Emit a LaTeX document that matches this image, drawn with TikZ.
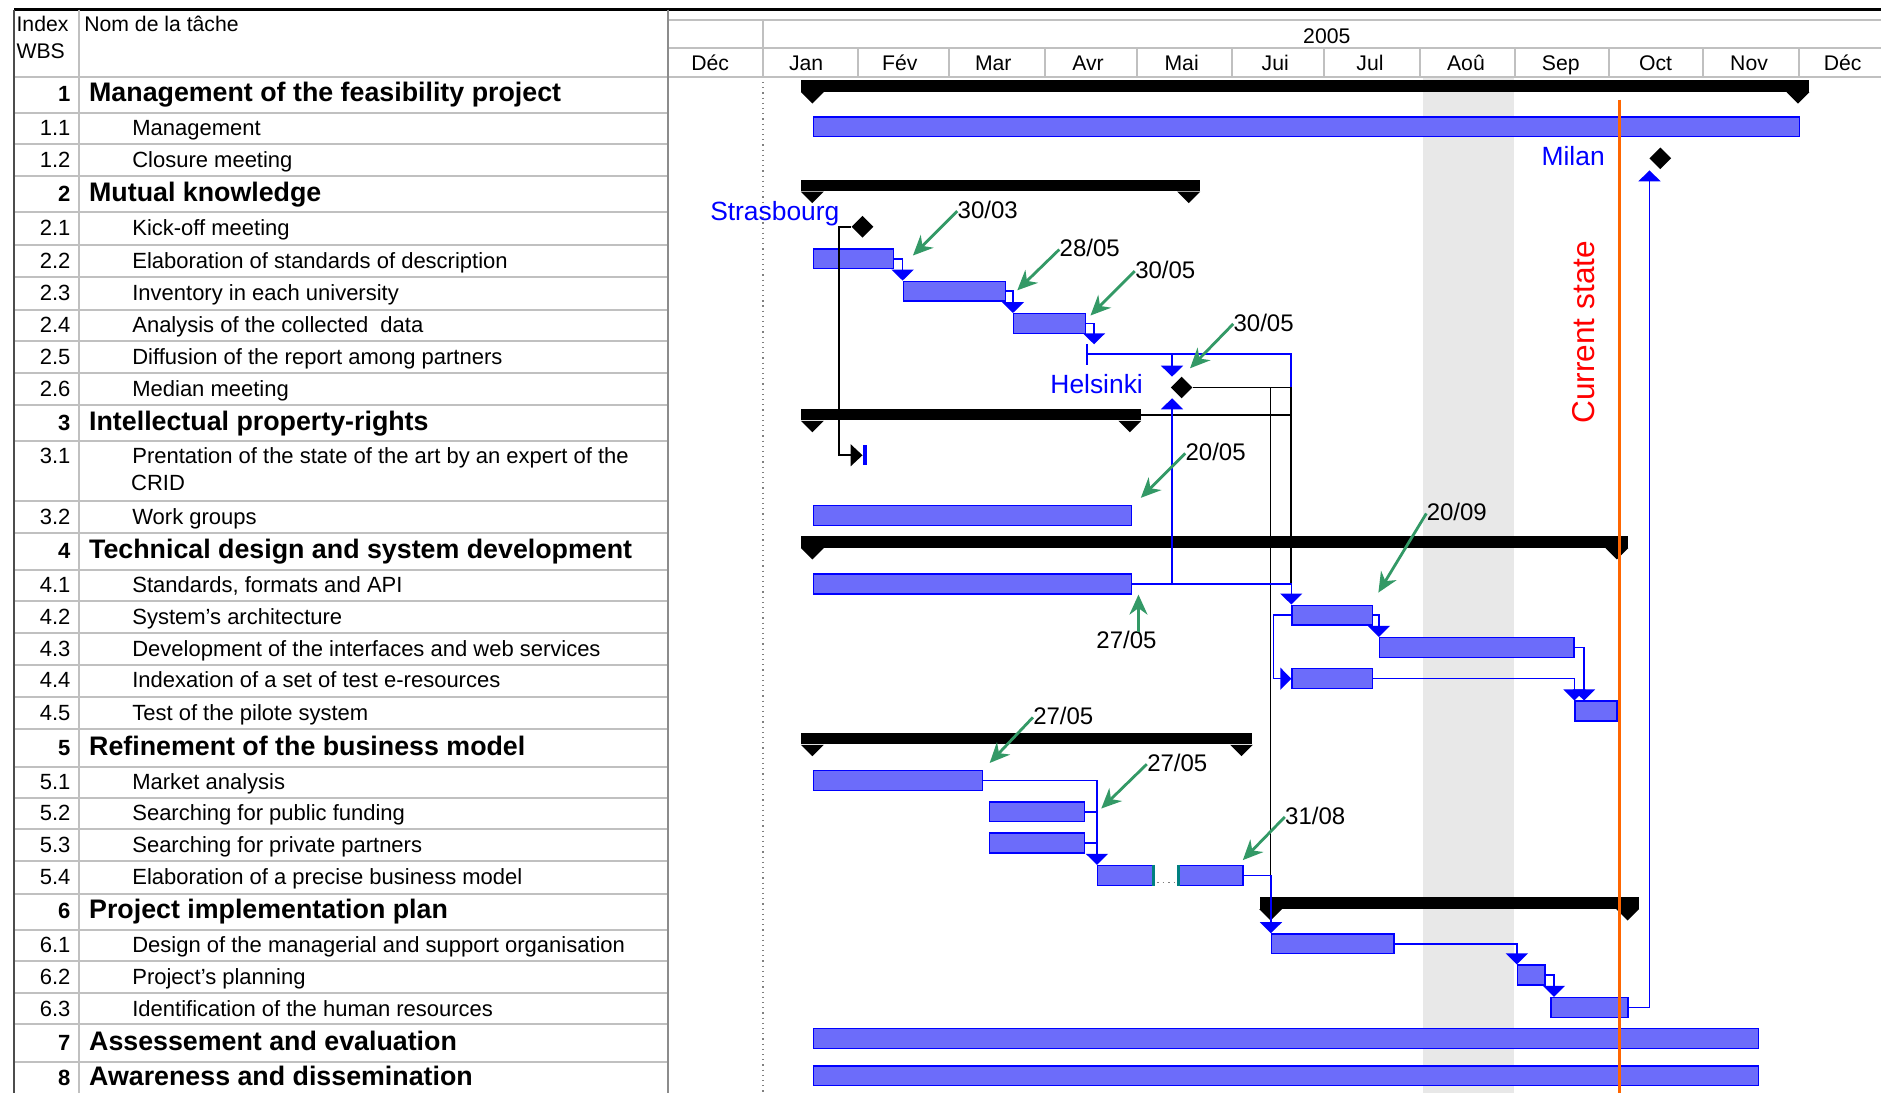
\documentclass[tikz,border=0pt]{standalone}
\usepackage{fontspec}
\setmainfont{Liberation Sans}
\usetikzlibrary{arrows.meta, shapes.geometric, fit, calc}

\definecolor{barblue}{RGB}{108,108,250}
\definecolor{notegreen}{RGB}{51,153,102}
\definecolor{nowline}{RGB}{255,102,0}
\definecolor{gridgray}{RGB}{192,192,192}
\definecolor{splitteal}{RGB}{0,128,128}

\tikzset{
  taskbar/.style={draw=blue, fill=barblue, line width=0.7pt, inner sep=0pt},
  sumbar/.style={fill=black, inner sep=0pt},
  milestone/.style={diamond, fill=black, inner sep=0pt, minimum width=11pt, minimum height=11pt},
  startmark/.style={fill=blue, inner sep=0pt, minimum width=2pt, minimum height=10pt},
  link/.style={draw=blue, line width=0.8pt, -{Triangle[width=11pt,length=5.5pt]}},
  plainlink/.style={draw=blue, line width=0.8pt},
  blacklink/.style={draw=black, line width=0.8pt},
  note/.style={draw=notegreen, line width=1.4pt, -{Stealth[length=10pt,width=9pt]}},
  gridline/.style={draw=gridgray, line width=1pt},
  txt/.style={inner sep=0pt, text height=0.72em, text depth=0pt},
  headtext/.style={txt, font=\fontsize{10.6}{11}\selectfont},
  wbs/.style={txt, anchor=east, font=\fontsize{11}{11}\selectfont},
  taskname/.style={txt, anchor=west, font=\fontsize{11}{11}\selectfont},
  groupname/.style={txt, anchor=west, font=\fontsize{13.4}{13}\selectfont\bfseries},
  datelbl/.style={txt, anchor=west, font=\fontsize{12}{12}\selectfont},
  msname/.style={txt, anchor=east, text=blue, font=\fontsize{13.2}{13}\selectfont},
}

\newcommand{\taskbar}[4]{\node[taskbar, fit={(#2,#4+3.5) (#3,#4+20)}] (#1) {};}
\newcommand{\sumbar}[4]{%
  \node[sumbar, fit={(#2,#4+3) (#3,#4+12.5)}] (#1) {};
  \fill (#1.south west) -- ++(19,0) -- ++(-9.5,9.5) -- cycle;
  \fill (#1.south east) -- ++(-19,0) -- ++(9.5,9.5) -- cycle;}

\begin{document}
\begin{tikzpicture}[x=0.6pt, y=-0.6pt]
\useasboundingbox (0,0) rectangle (1568,911);
\fill[white] (0,0) rectangle (1568,911);

% calendar background
\fill[black!9] (1186,64) rectangle (1262,911);
\draw[gray, dotted, line width=0.6pt] (636,64) -- (636,911);

% table
\draw[line width=1.2pt] (12,8) -- (1568,8);
\foreach \y in {64,94,120,147,177,204,231,258,284,311,338,368,418,444,475,501,528,554,581,608,639,665,691,718,745,775,801,828,854,885}
  \draw[gridline] (12,\y) -- (557,\y);
\draw[gridline] (557,64) -- (1568,64);
\draw[gridline] (557,17) -- (1568,17);
\draw[gridline] (557,40) -- (1568,40);
\draw[gridline] (636,17) -- (636,64);
\foreach \x in {715,791,871,948,1027,1104,1184,1263,1341,1420,1500}
  \draw[gridline] (\x,40) -- (\x,64);
\draw[black!70, line width=1pt] (12,8) -- (12,911);
\draw[gridline] (66,8) -- (66,911);
\draw[black!45, line width=1pt] (557,8) -- (557,911);

\node[headtext, anchor=west] (hidx) at (13.5,20) {Index};
\node[headtext, anchor=west] (hwbs) at (13.5,43) {WBS};
\node[headtext, anchor=west] (hname) at (70,20) {Nom de la tâche};
\node[headtext] (year) at (1106,30) {2005};
\foreach \x/\m [count=\n] in {592/Déc,672/Jan,750/Fév,828/Mar,907/Avr,985/Mai,1063/Jui,1142/Jul,1222/Aoû,1301/Sep,1380/Oct,1458/Nov,1536/Déc}
  \node[headtext] (mon\n) at (\x,53) {\m};

\foreach \y/\i/\t [count=\n] in {79/1/Management of the feasibility project,162/2/Mutual knowledge,353/3/Intellectual property-rights,459.5/4/Technical design and system development,623.5/5/Refinement of the business model,760/6/Project implementation plan,869.5/7/Assessement and evaluation,899/8/Awareness and dissemination}{
  \node[wbs, font=\fontsize{11}{11}\selectfont\bfseries] (gidx\n) at (59,\y) {\i};
  \node[groupname] (gname\n) at (74,\y) {\t};
}
\foreach \y/\i/\t [count=\n] in {107/1.1/Management,133.5/1.2/Closure meeting,190.5/2.1/Kick-off meeting,217.5/2.2/Elaboration of standards of description,244.5/2.3/Inventory in each university,271/2.4/Analysis of the collected~ data,297.5/2.5/Diffusion of the report among partners,324.5/2.6/Median meeting,380/3.1/Prentation of the state of the art by an expert of the,431/3.2/Work groups,488/4.1/{Standards, formats and API},514.5/4.2/System's architecture,541/4.3/Development of the interfaces and web services,567.5/4.4/Indexation of a set of test e-resources,594.5/4.5/Test of the pilote system,652/5.1/Market analysis,678/5.2/Searching for public funding,704.5/5.3/Searching for private partners,731.5/5.4/Elaboration of a precise business model,788/6.1/Design of the managerial and support organisation,814.5/6.2/Project's planning,841/6.3/Identification of the human resources}{
  \node[wbs] (tidx\n) at (59,\y) {\i};
  \node[taskname] (tname\n) at (110,\y) {\t};
}
\node[taskname] (tcrid) at (109,403) {CRID};

% summary bars
\sumbar{s1}{668}{1508}{64}
\sumbar{s2}{668}{1000}{147}
\sumbar{s3}{668}{951}{338}
\sumbar{s4}{668}{1357}{444}
\sumbar{s5}{668}{1044}{608}
\sumbar{s6}{1050}{1366}{745}

% task bars
\taskbar{t11}{678}{1500}{94}
\taskbar{t22}{678}{745}{204}
\taskbar{t23}{753}{838}{231}
\taskbar{t24}{845}{905}{258}
\taskbar{t32}{678}{943}{418}
\taskbar{t41}{678}{943}{475}
\taskbar{t42}{1077}{1144}{501}
\taskbar{t43}{1150}{1312}{528}
\taskbar{t44}{1077}{1144}{554}
\taskbar{t45}{1313}{1348}{581}
\taskbar{t51}{678}{819}{639}
\taskbar{t52}{825}{904}{665}
\taskbar{t53}{825}{904}{691}
\taskbar{t54a}{915}{961}{718}
\taskbar{t54b}{983}{1036}{718}
\taskbar{t61}{1060}{1162}{775}
\taskbar{t62}{1265}{1288}{801}
\taskbar{t63}{1293}{1357}{828}
\taskbar{t7}{678}{1466}{854}
\taskbar{t8}{678}{1466}{885}
\draw[splitteal, line width=1.6pt] (t54a.north east) -- (t54a.south east);
\draw[splitteal, line width=1.6pt] (t54b.north west) -- (t54b.south west);
\draw[gray, dotted, line width=0.8pt] ($(t54a.south east)+(3,-3)$) -- ($(t54b.south west)+(-3,-3)$);

% milestones
\node[milestone] (m12) at (1384,132) {};
\node[milestone] (m21) at (719,189) {};
\node[milestone] (m26) at (985,323) {};
\node[startmark] (m31) at (721,379.5) {};
\node[msname] (lmilan) at (1338,132) {Milan};
\node[msname] (lstras) at (700,178) {Strasbourg};
\node[msname] (lhels) at (953,322) {Helsinki};

\coordinate (c25) at (912,287);
\coordinate (p25s) at (906,295);
\coordinate (p25e) at (1076,295);
\coordinate (h26in) at (977,314);
\coordinate (h26out) at (977,332);
\coordinate (jr) at (1076,323);
\coordinate (jl) at (1059,323);
\coordinate (milanin) at (1375,142);

% links
\draw[blacklink, -{Triangle[width=11pt,length=6pt]}] (m21.west) -- ++(-10,0) |- (m31.west);
\draw[link] (t22.east) -| (t23.north west);
\draw[link] (t23.east) -| (t24.north west);
\draw[link] (t24.east) -| (c25);
\draw[plainlink] (906,287) -- (906,304);
\draw[plainlink] (p25s) -- (p25e) -- (jr);
\draw[link] (h26in |- p25s) -- (h26in);
\draw[blacklink] (m26.east) -- (jr) -- (jr |- t41.east);
\draw[blacklink] (s3.east) -- (s3.east -| jr);
\draw[blacklink] (jl) -- (jl |- t54b.east);
\draw[link] (t41.east) -| (t42.north west);
\draw[link] (h26out |- t41.east) -- (h26out);
\draw[link] (t42.west) -- ++(-15,0) |- (t44.west);
\draw[link] (t42.east) -| (t43.north west);
\draw[link] (t43.east) -| ($(t45.north west)+(8,0)$);
\draw[link] (t44.east) -| (t45.north west);
\draw[link] (t51.east) -| (t54a.north west);
\draw[plainlink] (t52.east) -- (t52.east -| t54a.west);
\draw[plainlink] (t53.east) -- (t53.east -| t54a.west);
\draw[link] (t54b.east) -| (t61.north west);
\draw[link] (t61.east) -| (t62.north west);
\draw[link] (t62.east) -| ($(t63.north west)+(3,0)$);
\draw[link] (t63.east) -| (milanin);

% notes
\node[datelbl] (d1) at (798,176) {30/03};
\node[datelbl] (d2) at (883,208) {28/05};
\node[datelbl] (d3) at (946,226) {30/05};
\node[datelbl] (d4) at (1028,270) {30/05};
\node[datelbl] (d5) at (988,378) {20/05};
\node[datelbl, anchor=center] (d6) at (939,535) {27/05};
\node[datelbl] (d7) at (1189,428) {20/09};
\node[datelbl] (d8) at (861,598) {27/05};
\node[datelbl] (d9) at (956,637) {27/05};
\node[datelbl] (d10) at (1071,681) {31/08};
\draw[note] (d1.west) -- ++(-37,37);
\draw[note] (d2.west) -- ++(-35,34);
\draw[note] (d3.west) -- ++(-37,37);
\draw[note] (d4.west) -- ++(-36,37);
\draw[note] (d5.west) -- ++(-37,37);
\draw[note] ($(d6.north)+(10,-2)$) -- ++(0,-31);
\draw[note] (d7.west) -- ++(-40,66);
\draw[note] (d8.west) -- ++(-36,38);
\draw[note] (d9.west) -- ++(-38,37);
\draw[note] (d10.west) -- ++(-35,36);

% current state
\draw[nowline, line width=1.8pt] (1350,83) -- (1350,911);
\node[rotate=90, text=red, inner sep=0pt, font=\fontsize{15.8}{16}\selectfont] (now) at (1320,277) {Current state};
\end{tikzpicture}
\end{document}
